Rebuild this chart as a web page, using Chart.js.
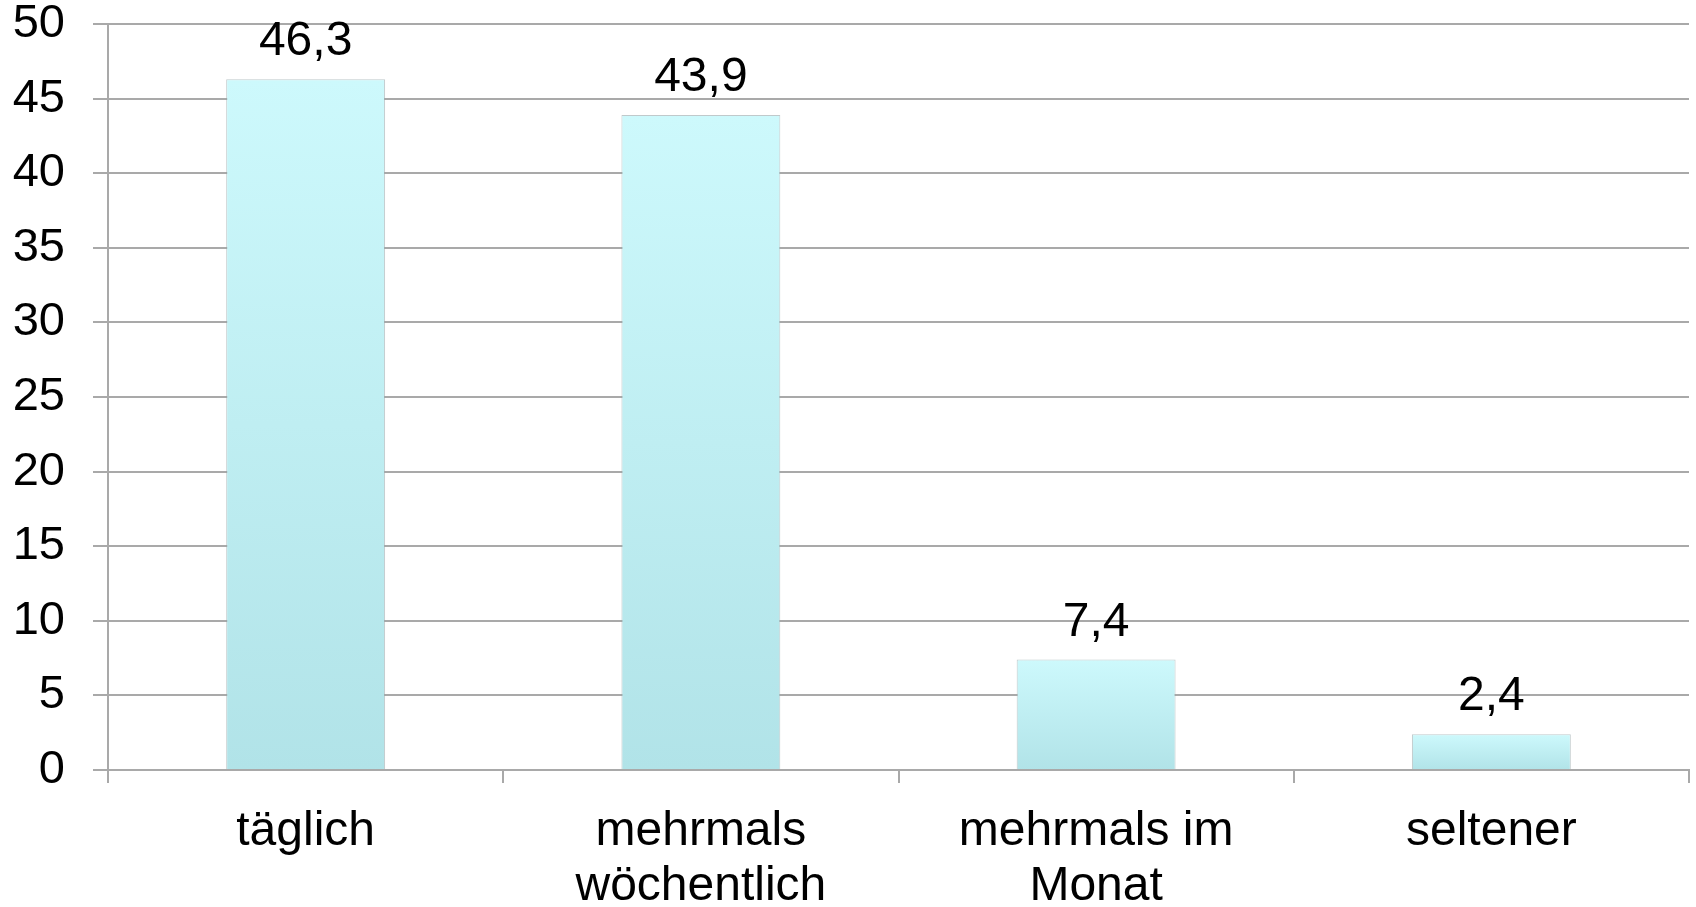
<!DOCTYPE html>
<html lang="de">
<head>
<meta charset="utf-8">
<title>Nutzungshäufigkeit</title>
<script src="https://cdn.jsdelivr.net/npm/chart.js@4/dist/chart.umd.min.js"></script>
<style>
  html, body { margin: 0; padding: 0; background: #ffffff; }
  #wrap { position: relative; width: 1696px; height: 907px; }
</style>
</head>
<body>
<div id="wrap"><canvas id="chart"></canvas></div>
<script>
// Kategorien und Werte (Prozent)
const categories = [['täglich'], ['mehrmals', 'wöchentlich'], ['mehrmals im', 'Monat'], ['seltener']];
const values = [46.3, 43.9, 7.4, 2.4];
const yTicks = { min: 0, max: 50, step: 5 };

const FONT = '"Liberation Sans", Arial, Helvetica, sans-serif';
const GRID = '#a9a9a9';
const BAR_TOP = 'rgb(205, 249, 252)';
const BAR_BOTTOM = 'rgb(177, 227, 232)';

// Verlauf je Balken, von der Balkenoberkante bis zur Nulllinie
function barGradient(ctx) {
  const chart = ctx.chart;
  const y = chart.scales && chart.scales.y;
  if (!y || ctx.type !== 'data') return BAR_TOP;
  const top = y.getPixelForValue(ctx.raw);
  const base = y.getPixelForValue(0);
  if (!isFinite(top) || !isFinite(base) || top === base) return BAR_TOP;
  const g = chart.ctx.createLinearGradient(0, top, 0, base);
  g.addColorStop(0, BAR_TOP);
  g.addColorStop(1, BAR_BOTTOM);
  return g;
}

// Wertbeschriftung über den Balken (deutsches Dezimalkomma)
const valueLabels = {
  id: 'valueLabels',
  afterDatasetsDraw(chart) {
    const { ctx } = chart;
    const meta = chart.getDatasetMeta(0);
    ctx.save();
    ctx.font = '48px ' + FONT;
    ctx.fillStyle = '#000000';
    ctx.textAlign = 'center';
    ctx.textBaseline = 'alphabetic';
    meta.data.forEach((bar, i) => {
      const txt = values[i].toFixed(1).replace('.', ',');
      ctx.fillText(txt, bar.x, bar.y - 24);
    });
    ctx.restore();
  }
};

new Chart(document.getElementById('chart'), {
  type: 'bar',
  data: {
    labels: categories,
    datasets: [{
      data: values,
      backgroundColor: barGradient,
      borderColor: 'rgba(150, 165, 168, 0.6)',
      borderWidth: 1,
      borderSkipped: 'bottom',
      categoryPercentage: 1,
      barPercentage: 0.402
    }]
  },
  options: {
    responsive: true,
    maintainAspectRatio: false,
    animation: false,
    devicePixelRatio: 1,
    layout: { padding: { top: 24, right: 7, left: 0, bottom: 0 } },
    plugins: {
      legend: { display: false },
      tooltip: { enabled: false }
    },
    scales: {
      x: {
        offset: true,
        grid: {
          display: true,
          offset: true,
          drawOnChartArea: false,
          drawTicks: true,
          tickLength: 13,
          color: GRID,
          lineWidth: 2
        },
        border: { display: true, color: GRID, width: 2 },
        ticks: {
          padding: 22,
          color: '#000000',
          maxRotation: 0,
          autoSkip: false,
          font: { family: FONT, size: 48, lineHeight: 1.13 }
        },
        afterFit(scale) { scale.height = 137; }
      },
      y: {
        min: yTicks.min,
        max: yTicks.max,
        grid: {
          color: GRID,
          lineWidth: 2,
          drawTicks: true,
          tickLength: 15
        },
        border: { display: true, color: GRID, width: 2 },
        ticks: {
          stepSize: yTicks.step,
          padding: 28,
          color: '#000000',
          font: { family: FONT, size: 47, lineHeight: 1 }
        },
        afterFit(scale) {
          scale.width = 108;
          scale.paddingTop = 0;
          scale.paddingBottom = 0;
        }
      }
    }
  },
  plugins: [valueLabels]
});
</script>
</body>
</html>
